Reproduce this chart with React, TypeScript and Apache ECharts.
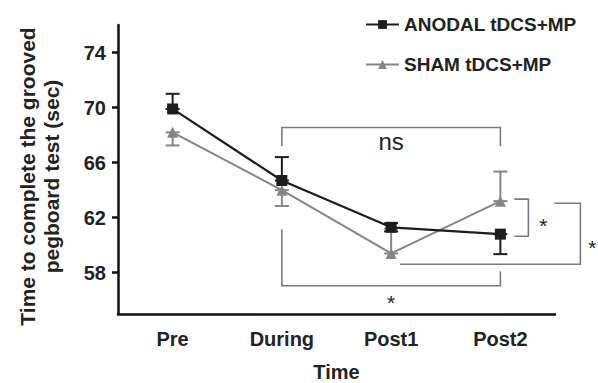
import React, { useEffect, useRef } from "react";
import * as echarts from "echarts";

const categories = ["Pre", "During", "Post1", "Post2"];
const anodalMean = [69.9, 64.7, 61.3, 60.8];
const shamMean = [68.2, 64.0, 59.4, 63.2];
const anodalHigh = [71.0, 66.4, 61.6, 60.8];
const anodalLow = [69.9, 64.7, 61.0, 59.35];
const shamHigh = [68.2, 64.0, 61.2, 65.35];
const shamLow = [67.25, 62.85, 59.4, 63.2];
const yTicks = [58, 62, 66, 70, 74];

const FONT = "Liberation Sans, Arial, sans-serif";
const DARK = "#1c1c1c";
const GRAY = "#858585";
const BRK = "#7a7a7a";

function errSeries(name: string, high: number[], low: number[], color: string) {
  return {
    type: "custom",
    name: name + " err",
    silent: true,
    z: 3,
    data: categories.map((_, i) => [i, low[i], high[i]]),
    renderItem: (params: any, api: any) => {
      const i = api.value(0);
      const lo = api.coord([i, api.value(1)]);
      const hi = api.coord([i, api.value(2)]);
      const w = 7;
      const children: any[] = [
        { type: "line", shape: { x1: lo[0], y1: lo[1], x2: hi[0], y2: hi[1] }, style: { stroke: color, lineWidth: 2 } },
      ];
      if (Math.abs(hi[1] - lo[1]) > 0.5) {
        children.push({ type: "line", shape: { x1: hi[0] - w, y1: hi[1], x2: hi[0] + w, y2: hi[1] }, style: { stroke: color, lineWidth: 2 } });
        children.push({ type: "line", shape: { x1: lo[0] - w, y1: lo[1], x2: lo[0] + w, y2: lo[1] }, style: { stroke: color, lineWidth: 2 } });
      }
      return { type: "group", children };
    },
  };
}

export default function App() {
  const ref = useRef<HTMLDivElement>(null);
  useEffect(() => {
    const chart = echarts.init(ref.current!, null, { renderer: "svg" });
    const option: any = {
      animation: false,
      backgroundColor: "#fff",
      legend: {
        orient: "vertical",
        left: 360,
        top: 10,
        itemWidth: 33,
        itemHeight: 11,
        itemGap: 21,
        data: ["ANODAL tDCS+MP", "SHAM tDCS+MP"],
        textStyle: { fontFamily: FONT, fontWeight: "bold", fontSize: 19, color: "#222" },
      },
      grid: { left: 118, right: 43, top: 25, bottom: 69, containLabel: false, outerBoundsMode: "none" },
      xAxis: {
        type: "category",
        data: categories,
        name: "Time",
        nameLocation: "middle",
        nameGap: 48,
        nameTextStyle: { fontFamily: FONT, fontWeight: "bold", fontSize: 20, color: "#222" },
        axisLine: { lineStyle: { color: "#111", width: 2.5 } },
        axisTick: { alignWithLabel: true, length: 6, lineStyle: { color: "#111", width: 2.5 } },
        axisLabel: { fontFamily: FONT, fontWeight: "bold", fontSize: 20, color: "#222", margin: 15 },
      },
      yAxis: {
        type: "value",
        min: 55,
        max: 76,
        name: "Time to complete the grooved\npegboard test (sec)",
        nameLocation: "middle",
        nameRotate: 90,
        nameGap: 55,
        nameTextStyle: { fontFamily: FONT, fontWeight: "bold", fontSize: 21, color: "#222", lineHeight: 24, padding: [0, 14, 0, 0] },
        splitLine: { show: false },
        axisLine: { show: true, lineStyle: { color: "#111", width: 2.5 } },
        axisTick: { show: true, customValues: yTicks, length: 6, lineStyle: { color: "#111", width: 2.5 } },
        axisLabel: { customValues: yTicks, fontFamily: FONT, fontWeight: "bold", fontSize: 20, color: "#222", margin: 12 },
      },
      series: [
        errSeries("ANODAL tDCS+MP", anodalHigh, anodalLow, DARK),
        errSeries("SHAM tDCS+MP", shamHigh, shamLow, GRAY),
        {
          name: "SHAM tDCS+MP",
          type: "line",
          data: shamMean,
          symbol: "triangle",
          symbolSize: 11,
          z: 4,
          lineStyle: { color: GRAY, width: 2 },
          itemStyle: { color: GRAY },
        },
        {
          name: "ANODAL tDCS+MP",
          type: "line",
          data: anodalMean,
          symbol: "rect",
          symbolSize: 11,
          z: 5,
          lineStyle: { color: DARK, width: 2.2 },
          itemStyle: { color: DARK },
        },
        {
          type: "custom",
          name: "brackets",
          silent: true,
          clip: false,
          z: 2,
          data: [[0]],
          renderItem: (params: any, api: any) => {
            const c = (i: number, v: number) => api.coord([i, v]);
            const st = { stroke: BRK, lineWidth: 1.6, fill: null };
            const txt = (x: number, y: number, t: string, size: number) => ({
              type: "text",
              style: { x, y, text: t, fill: "#222", font: `${size}px ${FONT}`, align: "center", verticalAlign: "middle" },
            });
            const a1 = c(1, 68.55), a2 = c(3, 68.55), a1b = c(1, 67.2), a2b = c(3, 67.2);
            const b1t = c(1, 61.15), b1 = c(1, 57.05), b2 = c(3, 57.05), b2t = c(3, 58.1);
            const bs = c(2, 56.2);
            const p2 = c(3, 63.35), p2b = c(3, 60.65), p2m = c(3, 61.8);
            const q1 = c(3, 63.05), q2 = c(3, 58.62), q0 = c(2, 58.62), qm = c(3, 60.2);
            return {
              type: "group",
              children: [
                { type: "polyline", shape: { points: [a1b, a1, a2, a2b] }, style: st },
                txt((a1[0] + a2[0]) / 2, a1[1] + 14, "ns", 24),
                { type: "polyline", shape: { points: [b1t, b1, b2, b2t] }, style: st },
                txt(bs[0], bs[1] + 5, "*", 21),
                { type: "polyline", shape: { points: [[p2[0] + 14, p2[1]], [p2[0] + 28, p2[1]], [p2[0] + 28, p2b[1]], [p2[0] + 14, p2b[1]]] }, style: st },
                txt(p2[0] + 43, p2m[1] + 5, "*", 21),
                { type: "polyline", shape: { points: [[q1[0] + 54, q1[1]], [q1[0] + 80, q1[1]], [q1[0] + 80, q2[1]], [q0[0] + 9, q0[1]]] }, style: st },
                txt(q1[0] + 92, qm[1] + 5, "*", 21),
              ],
            };
          },
        },
      ],
    };
    chart.setOption(option);
    return () => chart.dispose();
  }, []);
  return <div ref={ref} style={{ width: 598, height: 383, position: "absolute", left: 0, top: 0 }} />;
}
